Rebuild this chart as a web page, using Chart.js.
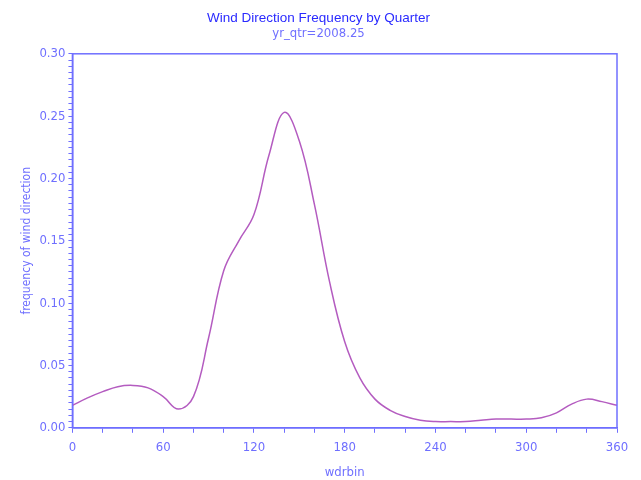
<!DOCTYPE html>
<html>
<head>
<meta charset="utf-8">
<script src="https://cdn.jsdelivr.net/npm/chart.js@4/dist/chart.umd.min.js"></script>
<style>
  html, body { margin: 0; padding: 0; background: #fff; }
  #wrap { width: 641px; height: 480px; }
</style>
</head>
<body>
<div id="wrap"><canvas id="windChart"></canvas></div>
<script>
// wind direction bins (degrees) and frequency
var wdrbin = [0, 10, 20, 30, 40, 50, 60, 70, 80, 90, 100, 110, 120, 130, 140, 150, 160, 170, 180,
              190, 200, 210, 220, 230, 240, 250, 260, 270, 280, 290, 300, 310, 320, 330, 340, 350, 360];
var freq = [0.018, 0.024, 0.029, 0.033, 0.034, 0.032, 0.025, 0.015, 0.025, 0.072, 0.126, 0.150, 0.171, 0.219, 0.253,
            0.230, 0.179, 0.117, 0.069, 0.040, 0.023, 0.014, 0.009, 0.006, 0.005, 0.005, 0.005, 0.006, 0.007,
            0.007, 0.007, 0.008, 0.012, 0.019, 0.023, 0.021, 0.018];
var xTicks = [0, 60, 120, 180, 240, 300, 360];
var yTicks = [0.00, 0.05, 0.10, 0.15, 0.20, 0.25, 0.30];

var axisBlue = '#6f6fff';
var narrow = '"Liberation Sans Narrow", "DejaVu Sans Condensed", sans-serif';

var points = wdrbin.map(function (d, i) { return { x: d, y: freq[i] }; });

function isMajor(v, list) {
  return list.some(function (t) { return Math.abs(t - v) < 1e-6; });
}

// frame around the plot area like the SAS output
var frame = {
  id: 'frame',
  afterDraw: function (chart) {
    var a = chart.chartArea, c = chart.ctx;
    c.save();
    c.strokeStyle = axisBlue;
    c.lineWidth = 1.5;
    c.strokeRect(a.left, a.top, a.right - a.left, a.bottom - a.top);
    c.restore();
  }
};

var ctx = document.getElementById('windChart').getContext('2d');
var chart = new Chart(ctx, {
  type: 'line',
  data: {
    datasets: [{
      label: 'frequency',
      data: points,
      borderColor: '#b45cc0',
      borderWidth: 1.5,
      pointRadius: 0,
      tension: 0.4,
      fill: false
    }]
  },
  options: {
    responsive: true,
    maintainAspectRatio: false,
    animation: false,
    layout: { padding: { left: 20, right: 24, top: 0, bottom: 0 } },
    plugins: {
      legend: { display: false },
      tooltip: { enabled: false },
      title: {
        display: true,
        text: 'Wind Direction Frequency by Quarter',
        color: '#2a2aff',
        font: { family: 'Liberation Sans, Arial, sans-serif', size: 13.5, weight: 'normal' },
        padding: { top: 10, bottom: 0 }
      },
      subtitle: {
        display: true,
        text: 'yr_qtr=2008.25',
        color: axisBlue,
        font: { family: narrow, size: 13 },
        padding: { top: 0, bottom: 12 }
      }
    },
    scales: {
      x: {
        type: 'linear',
        min: 0,
        max: 360,
        afterBuildTicks: function (axis) {
          var t = [];
          for (var v = 0; v <= 360; v += 20) t.push({ value: v });
          axis.ticks = t;
        },
        grid: { drawOnChartArea: false, color: axisBlue, tickLength: 5 },
        border: { color: axisBlue, width: 1.5 },
        ticks: {
          autoSkip: false,
          maxRotation: 0,
          color: axisBlue,
          font: { family: narrow, size: 13 },
          padding: 7,
          callback: function (v) { return isMajor(v, xTicks) ? String(v) : ''; }
        },
        title: {
          display: true,
          text: 'wdrbin',
          color: axisBlue,
          font: { family: narrow, size: 13 },
          padding: { top: 2, bottom: 0 }
        }
      },
      y: {
        type: 'linear',
        min: 0,
        max: 0.30,
        afterBuildTicks: function (axis) {
          var t = [];
          for (var i = 0; i <= 60; i++) t.push({ value: i * 0.005 });
          axis.ticks = t;
        },
        grid: { drawOnChartArea: false, color: axisBlue, tickLength: 4 },
        border: { color: axisBlue, width: 1.5 },
        ticks: {
          autoSkip: false,
          color: axisBlue,
          font: { family: narrow, size: 13 },
          padding: 3,
          callback: function (v) { return isMajor(v, yTicks) ? v.toFixed(2) : ''; }
        },
        title: {
          display: true,
          text: 'frequency of wind direction',
          color: axisBlue,
          font: { family: narrow, size: 12 },
          padding: { top: 0, bottom: 2 }
        }
      }
    }
  },
  plugins: [frame]
});
</script>
</body>
</html>
